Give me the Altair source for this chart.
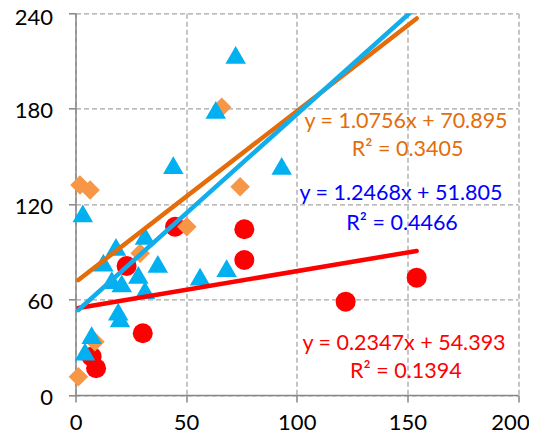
import altair as alt
import pandas as pd

# ---- data ----
red_x = [45.0, 76.3, 76.3, 23.1, 30.4, 7.3, 9.3, 122.1, 154.2]
red_y = [105.8, 104.2, 84.9, 81.1, 38.8, 24.1, 16.8, 58.7, 73.8]

orange_x = [66.1, 2.0, 6.6, 74.4, 50.3, 29.2, 8.8, 1.3]
orange_y = [180.9, 132.0, 128.9, 131.0, 105.8, 89.1, 33.5, 11.5]

blue_x = [72.4, 63.4, 44.2, 93.2, 3.3, 18.3, 31.4, 12.6, 37.2, 16.4,
          20.9, 28.4, 31.4, 56.3, 68.3, 19.3, 20.1, 7.3, 4.3]
blue_y = [213.8, 179.2, 144.6, 144.0, 114.2, 93.2, 100.0, 83.2, 82.4, 72.3,
          70.2, 75.5, 66.0, 74.4, 79.7, 52.4, 48.2, 37.7, 27.2]

# trend line coefficients (red, orange, blue)
slopes = [0.2347, 1.0756, 1.2468]
intercepts = [54.393, 70.895, 51.805]
r_squared = ["0.1394", "0.3405", "0.4466"]

x_ticks = [0, 50, 100, 150, 200]
y_ticks = [0, 60, 120, 180, 240]

# annotation placement (data coordinates)
eq_x = [148.5, 149.4, 147.1]
eq_y = [32.3, 171.9, 126.1]
r2_x = [149.3, 150.1, 147.6]
r2_y = [14.5, 153.9, 107.5]

# ---- styles ----
marker_colors = ["#FF0000", "#F79646", "#00B0F0"]
line_colors = ["#FF0000", "#E46C0A", "#12ADEB"]
text_colors = ["#FF0000", "#E46C0A", "#0000FF"]
shapes = ["circle", "diamond", "triangle-up"]
sizes = [400, 380, 420]

xs_all = red_x + orange_x + blue_x
x_lo, x_hi = min(xs_all), max(xs_all)

xscale = alt.Scale(domain=[0, 200], nice=False, zero=False)
yscale = alt.Scale(domain=[0, 240], nice=False, zero=False)

common_axis = dict(
    grid=True, gridDash=[5, 3], gridColor="#A6A6A6", gridWidth=1.3,
    domainColor="#868686", domainWidth=1.5,
    tickColor="#868686", tickWidth=1.5, tickSize=7,
    labelFont="Lato", labelFontSize=22, labelColor="#000000",
    title=None, labelFlush=False, labelOverlap=False,
)
xaxis = alt.Axis(
    values=x_ticks, labelPadding=10,
    labelOffset={"condition": {"test": "datum.value == 200", "value": -8}, "value": 0},
    **common_axis,
)
yaxis = alt.Axis(
    values=y_ticks, labelPadding=16,
    labelOffset={"condition": {"test": "datum.value == 240", "value": 4}, "value": 2},
    **common_axis,
)


def X(field):
    return alt.X(field, type="quantitative", scale=xscale, axis=xaxis)


def Y(field):
    return alt.Y(field, type="quantitative", scale=yscale, axis=yaxis)


series_pts = [(red_x, red_y), (orange_x, orange_y), (blue_x, blue_y)]

layers = []
# markers
for i, (sx, sy) in enumerate(series_pts):
    df = pd.DataFrame({"x": sx, "y": sy})
    layers.append(
        alt.Chart(df).mark_point(
            shape=shapes[i], filled=True, size=sizes[i],
            color=marker_colors[i], opacity=1, strokeWidth=0,
        ).encode(x=X("x"), y=Y("y"))
    )

# trend lines
for i in range(3):
    df = pd.DataFrame({
        "x": [x_lo, x_hi],
        "y": [slopes[i] * x_lo + intercepts[i], slopes[i] * x_hi + intercepts[i]],
    })
    layers.append(
        alt.Chart(df).mark_line(
            color=line_colors[i], strokeWidth=4.5, strokeCap="round", clip=True,
        ).encode(x=X("x"), y=Y("y"))
    )

# equation annotations
for i in range(3):
    df = pd.DataFrame({
        "x": [eq_x[i], r2_x[i]],
        "y": [eq_y[i], r2_y[i]],
        "t": [f"y = {slopes[i]}x + {intercepts[i]}", f"R² = {r_squared[i]}"],
    })
    layers.append(
        alt.Chart(df).mark_text(
            font="Lato", fontSize=21.5, align="center", baseline="middle",
            color=text_colors[i],
        ).encode(x=X("x"), y=Y("y"), text="t:N")
    )

chart = alt.layer(*layers).properties(
    width=442.5, height=381.7,
    autosize=alt.AutoSizeParams(type="none"),
    padding={"left": 67.5, "top": 5.3, "right": 11, "bottom": 38},
    background="white",
).configure_view(stroke=None)

chart.save("out.html", embed_options={"renderer": "svg", "actions": False})
